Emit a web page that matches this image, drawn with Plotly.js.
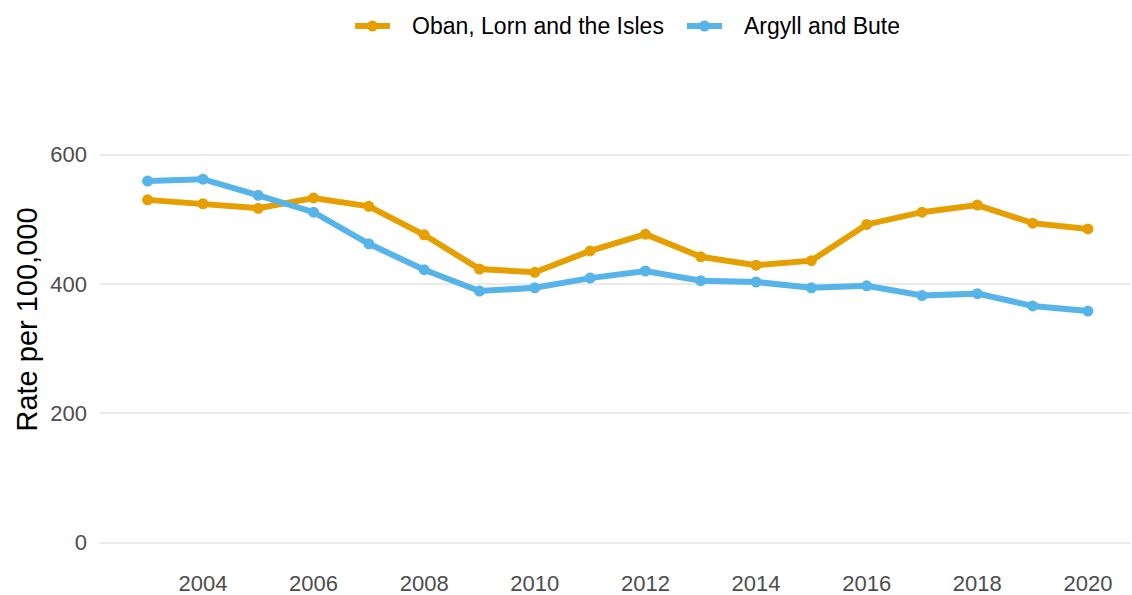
<!DOCTYPE html>
<html>
<head>
<meta charset="utf-8">
<script src="https://cdn.plot.ly/plotly-3.0.1.min.js"></script>
<style>html,body{margin:0;padding:0;background:#fff;}#chart{width:1132px;height:595px;}</style>
</head>
<body>
<div id="chart"></div>
<script>
const years = [2003,2004,2005,2006,2007,2008,2009,2010,2011,2012,2013,2014,2015,2016,2017,2018,2019,2020];
const oban = [530,524,517,533,520,476,423,418,451,477,442,429,436,492,511,522,494,485];
const argyll = [559,562,537,511,462,422,389,394,409,420,405,403,394,397,382,385,366,358];
const seriesNames = ["Oban, Lorn and the Isles","Argyll and Bute"];
const seriesColors = ["#E69F00","#56B4E9"];
const xTicks = [2004,2006,2008,2010,2012,2014,2016,2018,2020];
const yTicks = [0,200,400,600];

const traces = [
  {x: years, y: oban, name: seriesNames[0], mode: "lines+markers", showlegend: false,
   line: {color: seriesColors[0], width: 6}, marker: {color: seriesColors[0], size: 11}},
  {x: years, y: argyll, name: seriesNames[1], mode: "lines+markers", showlegend: false,
   line: {color: seriesColors[1], width: 6}, marker: {color: seriesColors[1], size: 11}}
];

// custom legend (pixel positions converted to paper coordinates)
const L = 100, W = 1030, T = 77, H = 485;
const px = v => (v - L) / W;
const py = v => (T + H - v) / H;
const legendStarts = [355, 687];
const legendY = 26;
const shapes = [], annotations = [];
seriesNames.forEach((name, i) => {
  const x0 = legendStarts[i];
  shapes.push({type: "line", xref: "paper", yref: "paper", x0: px(x0), x1: px(x0 + 35),
               y0: py(legendY), y1: py(legendY), line: {color: seriesColors[i], width: 6}});
  shapes.push({type: "circle", xref: "paper", yref: "paper", x0: px(x0 + 12), x1: px(x0 + 23),
               y0: py(legendY - 5.5), y1: py(legendY + 5.5), fillcolor: seriesColors[i],
               line: {width: 0}});
  annotations.push({xref: "paper", yref: "paper", x: px(x0 + 55), y: py(legendY),
                    xanchor: "left", yanchor: "middle", showarrow: false, text: name,
                    font: {size: 23, color: "#000"}});
});

const layout = {
  width: 1132, height: 595,
  margin: {l: L, r: 2, t: T, b: 33, autoexpand: false},
  paper_bgcolor: "#fff", plot_bgcolor: "#fff",
  font: {family: "Liberation Sans, Arial, sans-serif"},
  showlegend: false,
  shapes: shapes, annotations: annotations,
  xaxis: {range: [2002.14, 2020.76], tickvals: xTicks, ticktext: xTicks.map(String),
          showgrid: false, zeroline: false, showline: false, ticks: "",
          ticklabelstandoff: 6,
          tickfont: {size: 22, color: "#4d4d4d"}},
  yaxis: {range: [-30, 720], tickvals: yTicks, ticktext: yTicks.map(String),
          showgrid: true, gridcolor: "#ebebeb", gridwidth: 2, zeroline: false,
          showline: false, ticks: "", ticklabelstandoff: 12,
          tickfont: {size: 22, color: "#4d4d4d"},
          title: {text: "Rate per 100,000", font: {size: 29, color: "#000"}, standoff: 4}}
};

Plotly.newPlot("chart", traces, layout, {displayModeBar: false, staticPlot: true});
</script>
</body>
</html>
